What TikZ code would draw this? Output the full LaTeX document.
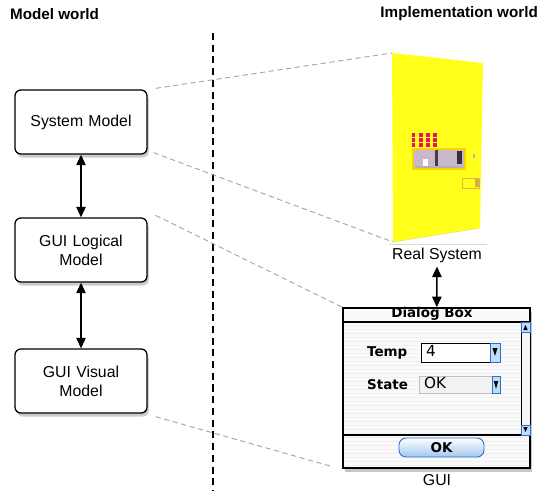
\documentclass[tikz,border=0pt]{standalone}
\usepackage{fontspec}
\setmainfont{Liberation Sans}
\newfontfamily\dlgfont{DejaVu Sans}
\usetikzlibrary{arrows.meta,positioning,shadows}
\definecolor{vmyellow}{HTML}{FFFF1A}
\definecolor{vmpink}{HTML}{E8106A}
\definecolor{vmwin}{HTML}{C9B8CC}
\definecolor{aquablue}{HTML}{2C6FD0}
\definecolor{aqualight}{HTML}{BFDDF5}

\begin{document}
\begin{tikzpicture}[x=0.03cm,y=-0.03cm,
    model/.style={rectangle, rounded corners=5pt, draw, line width=1.1pt, fill=white,
      text width=3.4cm, align=center, minimum width=3.96cm, minimum height=1.92cm,
      font=\fontsize{13.5}{16}\selectfont,
      drop shadow={shadow xshift=1.5pt, shadow yshift=-3pt, opacity=0.4}},
    title/.style={font=\fontsize{13}{15}\selectfont\bfseries},
    link/.style={{Triangle[length=9pt,width=8pt]}-{Triangle[length=9pt,width=8pt]}, line width=1.2pt},
    trace/.style={gray!70, thick, dash pattern=on 4.5pt off 3pt},
    dlglabel/.style={font=\dlgfont\fontsize{11.5}{13}\selectfont\bfseries},
    dlgvalue/.style={font=\dlgfont\fontsize{13}{15}\selectfont, anchor=west},
    scrollbtn/.style={draw=aquablue, thick, fill=aqualight}
  ]
    \useasboundingbox (0,0) rectangle (542,490);

    % headings and the border between the two worlds
    \node[title, anchor=west] (mtitle) at (6,14) {Model world};
    \node[title, anchor=east] (ititle) at (542,14) {Implementation world};
    \draw[line width=1.1pt, dash pattern=on 6pt off 4pt] (213,33) -- (213,490);

    % model side
    \node[model] (sysmodel) at (81,122) {System Model};
    \node[model] (logical) at (81,250) {GUI Logical\\Model};
    \node[model] (visual) at (81,381) {GUI Visual\\Model};

    \draw[link] (sysmodel) -- (logical);
    \draw[link] (logical) -- (visual);

    % the vending machine
    \coordinate (mtl) at (392,53);
    \coordinate (mtr) at (483,63);
    \coordinate (mbr) at (480,228);
    \coordinate (mbl) at (393,242);
    \fill[vmyellow] (mtl) -- (mtr) -- (mbr) -- (mbl) -- cycle;
    \draw[yellow!60!black, opacity=0.35] (mbl) -- (mbr);
    \draw[gray!30] (389,244) -- (487,244);
    \foreach \i in {0,...,3}
      \foreach \j in {0,...,2}
        \fill[vmpink] (411.5+7.3*\i,133+5*\j) rectangle ++(3.8,3.6);
    \fill[yellow!70!orange] (412,148) rectangle (466,170);
    \fill[vmwin] (414,150) rectangle (464,168);
    \fill[black!75] (435,150) rectangle (438,167);
    \fill[black!80] (457,151) rectangle (462,164);
    \fill[gray!60] (415,166) rectangle (463,168);
    \fill[white] (423,159) rectangle (428,166);
    \fill[gray!60] (473,154) rectangle (474.5,158);
    \draw[yellow!40!brown, thick] (462,178) rectangle (479,188);
    \fill[yellow!30!brown] (475,179) rectangle (478.5,187);
    \node[font=\fontsize{13.5}{16}\selectfont] (realsys) at (437,255) {Real System};

    % the dialog box
    \node[draw, line width=1.4pt, fill=gray!4, minimum width=5.61cm, minimum height=4.8cm,
      drop shadow={shadow xshift=1.5pt, shadow yshift=-3.5pt, opacity=0.45}] (dialog) at (436.5,388) {};
    \foreach \y in {325,329,...,466}
      \draw[gray!12, very thin] (344,\y) -- (529,\y);
    \draw[line width=1.2pt] (343,322) -- (530,322);
    \draw[line width=1.2pt] (343,435) -- (530,435);
    \node[dlglabel] (dlgtitle) at (432,314) {Dialog Box};
    \fill[gray!8] (521,322) rectangle (530,435);
    \draw (521,322) -- (521,435);
    \draw[scrollbtn] (521,322) rectangle (530,332);
    \fill (523.3,330) -- (527.7,330) -- (525.5,325) -- cycle;
    \draw[scrollbtn] (521,425) rectangle (530,435);
    \fill (523.3,427) -- (527.7,427) -- (525.5,432) -- cycle;

    \node[dlglabel, anchor=west] (templbl) at (363,353) {Temp};
    \draw[thick, fill=white] (421,343) rectangle (490,362);
    \node[dlgvalue] (tempval) at (422,351) {4};
    \draw[scrollbtn] (490,343) rectangle (500,362);
    \fill (492.5,348) -- (497.5,348) -- (495,356) -- cycle;

    \node[dlglabel, anchor=west] (statelbl) at (363,385) {State};
    \draw[gray!50, fill=gray!10] (419,376) rectangle (492,393);
    \node[dlgvalue] (stateval) at (420,383) {OK};
    \draw[scrollbtn] (492,376) rectangle (500,393);
    \fill (493.8,381) -- (498.2,381) -- (496,389) -- cycle;

    \node[draw=aquablue, thick, rounded corners=6pt, top color=white, bottom color=aqualight!80!aquablue,
      minimum width=2.55cm, minimum height=0.57cm, inner sep=0pt, dlglabel] (okbtn) at (441.5,447.5) {OK};
    \node[font=\fontsize{13.5}{16}\selectfont] (guilbl) at (437,480) {GUI};

    \draw[link] (realsys) -- (dialog);

    % correspondences between the worlds
    \coordinate (dlgnear) at (330,466);
    \draw[trace] (sysmodel.north east) ++(8,-1) -- (mtl);
    \draw[trace] (sysmodel.south east) ++(6,-2) -- (mbl);
    \draw[trace] (logical.north east) ++(8,-2) -- (dialog.north west);
    \draw[trace] (visual.south east) ++(8,3) -- (dlgnear);
\end{tikzpicture}
\end{document}
